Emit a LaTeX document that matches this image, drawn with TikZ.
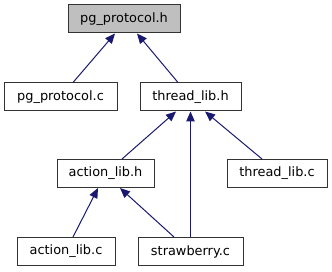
\documentclass[tikz,border=0pt]{standalone}
\usepackage{fontspec}
\setmainfont{DejaVu Sans}
\usetikzlibrary{arrows.meta}
\definecolor{edgeblue}{HTML}{191970}
\definecolor{rootgray}{HTML}{BFBFBF}
\tikzset{
  file/.style={draw=black!80, line width=1pt, fill=white, minimum height=28pt,
    inner sep=0pt, font=\fontsize{12.9}{15}\selectfont},
  root/.style={file, fill=rootgray},
  dep/.style={draw=edgeblue, line width=1pt,
    -{Triangle[length=10pt,width=8.5pt,fill=edgeblue]}}
}
\begin{document}
\begin{tikzpicture}[x=1pt,y=-1pt]
  \useasboundingbox (0,0) rectangle (332,272);
  % headers and sources
  \node[root, minimum width=112pt] (pgh) at (124,19)    {pg\_protocol.h};
  \node[file, minimum width=113pt] (pgc) at (60.5,97)   {pg\_protocol.c};
  \node[file, minimum width=101pt] (thh) at (190.5,97)  {thread\_lib.h};
  \node[file, minimum width=97pt]  (alh) at (105.5,173.5) {action\_lib.h};
  \node[file, minimum width=100pt] (tlc) at (277,173.5) {thread\_lib.c};
  \node[file, minimum width=98pt]  (alc) at (66,251.5)  {action\_lib.c};
  \node[file, minimum width=105pt] (stc) at (190.5,251.5) {strawberry.c};
  % include relations
  \draw[dep] ([xshift=12.5pt]pgc.north) -- ([xshift=-9pt]pgh.south);
  \draw[dep] ([xshift=-12.5pt]thh.north) -- ([xshift=13pt]pgh.south);
  \draw[dep] ([xshift=16.5pt]alh.north) -- ([xshift=-14.5pt]thh.south);
  \draw[dep] (stc.north) -- (thh.south);
  \draw[dep] ([xshift=-15pt]tlc.north) -- ([xshift=14.5pt]thh.south);
  \draw[dep] ([xshift=7pt]alc.north) -- ([xshift=-7.5pt]alh.south);
  \draw[dep] ([xshift=-16.5pt]stc.north) -- ([xshift=14.5pt]alh.south);
\end{tikzpicture}
\end{document}
